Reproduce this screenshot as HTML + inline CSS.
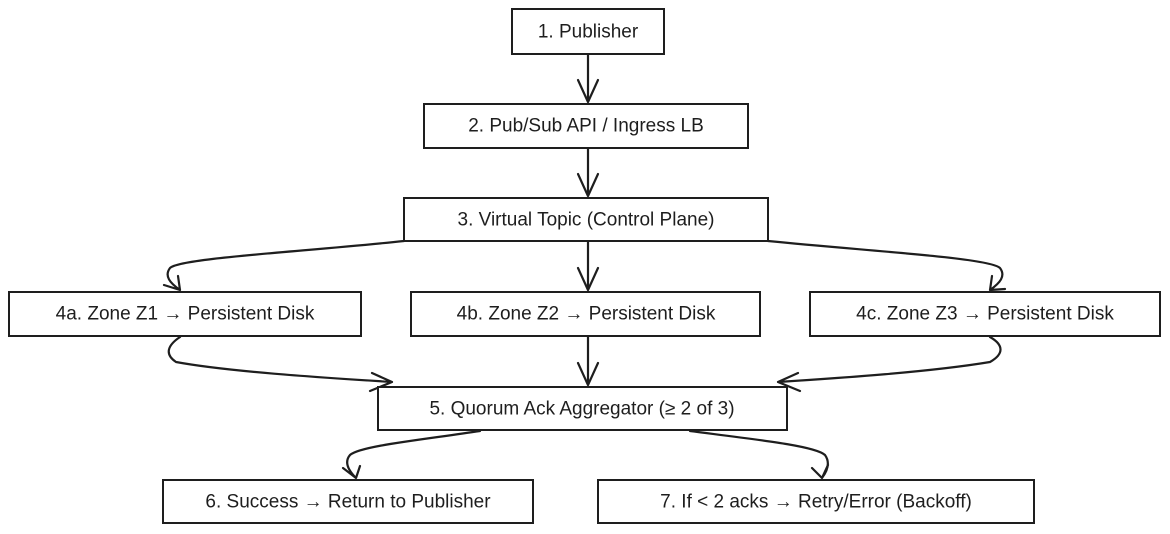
<!DOCTYPE html>
<html><head><style>
html,body{margin:0;padding:0;background:#fff;}
svg{display:block}
text{font-family:"Liberation Sans",sans-serif;font-size:19px;fill:#1e1e1e;text-anchor:middle;dominant-baseline:central}
.b{fill:#fff;stroke:#1e1e1e;stroke-width:2}
.l{fill:none;stroke:#1e1e1e;stroke-width:2.2;stroke-linecap:round;stroke-linejoin:round}
</style></head><body>
<svg width="1170" height="534" viewBox="0 0 1170 534">
<path class="l" d="M588 55 L588 102 M578 80 L588 102 L598 80"/>
<path class="l" d="M588 149 L588 196 M578 174 L588 196 L598 174"/>
<path class="l" d="M588 242 L588 290 M578 268 L588 290 L598 268"/>
<path class="l" d="M588 337 L588 385 M578 363 L588 385 L598 363"/>
<path class="l" d="M404 241 C300 252 180 258 170 268 C164 276 170 283 180 290 M164 285 L180 290 L178 276"/>
<path class="l" d="M768 241 C880 252 990 258 1000 268 C1006 276 1000 283 990 290 M992 276 L990 290 L1005 289"/>
<path class="l" d="M180 337 C168 345 164 354 176 362 C230 372 330 378 392 382 M372 373 L392 382 L370 391"/>
<path class="l" d="M990 337 C1004 345 1004 354 990 362 C930 372 840 378 778 382 M798 373 L778 382 L800 391"/>
<path class="l" d="M480 431 C420 440 360 446 350 455 C344 462 348 470 356 478 M343 468 L356 478 L360 466"/>
<path class="l" d="M690 431 C760 440 815 446 825 455 C830 462 828 470 822 478 M812 468 L822 478 L828 465"/>
<rect class="b" x="512" y="9" width="152" height="45"/>
<text x="588" y="32">1. Publisher</text>
<rect class="b" x="424" y="104" width="324" height="44"/>
<text x="586" y="126">2. Pub/Sub API / Ingress LB</text>
<rect class="b" x="404" y="198" width="364" height="43"/>
<text x="586" y="220">3. Virtual Topic (Control Plane)</text>
<rect class="b" x="9" y="292" width="352" height="44"/>
<text x="185" y="314">4a. Zone Z1 → Persistent Disk</text>
<rect class="b" x="411" y="292" width="349" height="44"/>
<text x="586" y="314">4b. Zone Z2 → Persistent Disk</text>
<rect class="b" x="810" y="292" width="350" height="44"/>
<text x="985" y="314">4c. Zone Z3 → Persistent Disk</text>
<rect class="b" x="378" y="387" width="409" height="43"/>
<text x="582" y="409">5. Quorum Ack Aggregator (≥ 2 of 3)</text>
<rect class="b" x="163" y="480" width="370" height="43"/>
<text x="348" y="502">6. Success → Return to Publisher</text>
<rect class="b" x="598" y="480" width="436" height="43"/>
<text x="816" y="502">7. If &lt; 2 acks → Retry/Error (Backoff)</text>
</svg>
</body></html>
